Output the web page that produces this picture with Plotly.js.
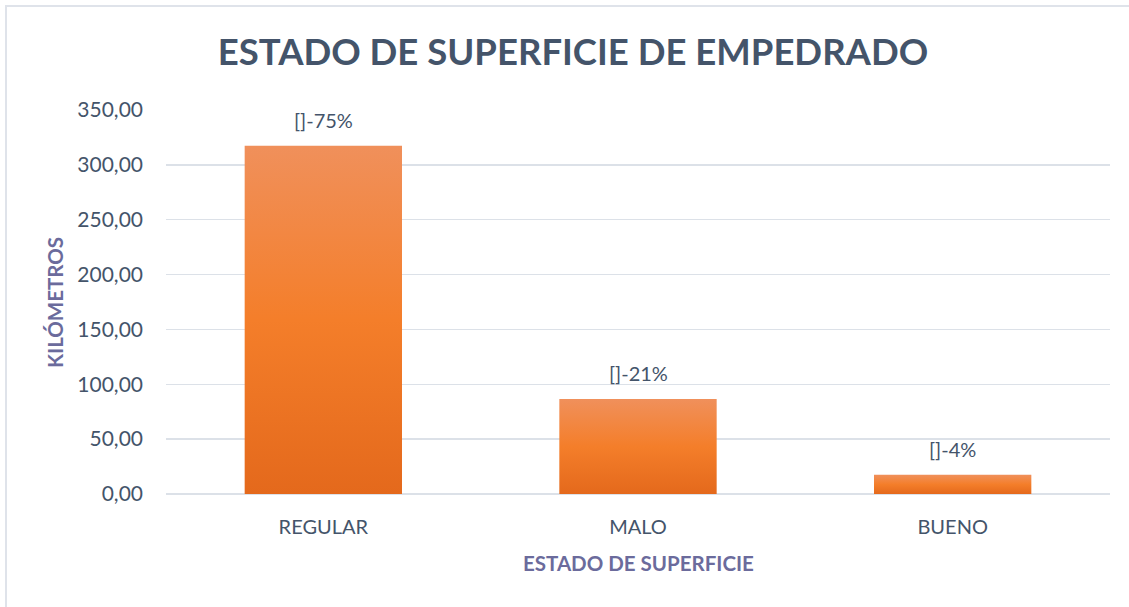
<!DOCTYPE html>
<html>
<head>
<meta charset="utf-8">
<script src="https://cdn.plot.ly/plotly-3.0.1.min.js"></script>
<style>
  html, body { margin: 0; padding: 0; background: #ffffff; }
  #wrap { position: relative; width: 1129px; height: 607px; overflow: hidden; }
  #chart { width: 1129px; height: 607px; }
  #frame { position: absolute; left: 5px; top: 5px; width: 1140px; height: 620px;
           border: 2px solid #dfe3ea; box-sizing: border-box; pointer-events: none; }
</style>
</head>
<body>
<div id="wrap">
  <div id="chart"></div>
  <div id="frame"></div>
</div>
<script>
// Data
const categories = ["REGULAR", "MALO", "BUENO"];
const kilometros = [317.5, 86.5, 17.5];
const labels = ["[]-75%", "[]-21%", "[]-4%"];
const yTicks = [0, 50, 100, 150, 200, 250, 300, 350];

const textColor = "#44546a";
const axisTitleColor = "#6b6b9c";
const font = "Lato, 'Open Sans', sans-serif";

const trace = {
  type: "bar",
  x: categories,
  y: kilometros,
  marker: { color: "#f47f2c", line: { width: 0 } },
  width: 0.5,
  hoverinfo: "x+y"
};

const dataLabels = categories.map(function (c, i) {
  return {
    x: c, y: kilometros[i], xref: "x", yref: "y",
    text: labels[i], showarrow: false,
    xanchor: "center", yanchor: "bottom", yshift: 12,
    font: { family: font, size: 20, color: textColor }
  };
});

const layout = {
  width: 1129,
  height: 607,
  margin: { l: 166, r: 19, t: 110, b: 113 },
  paper_bgcolor: "#ffffff",
  plot_bgcolor: "#ffffff",
  separators: ",.",
  showlegend: false,
  title: {
    text: "<b>ESTADO DE SUPERFICIE DE EMPEDRADO</b>",
    font: { family: font, size: 36.5, color: textColor },
    x: 573 / 1129, xanchor: "center", xref: "container",
    y: 1 - 52 / 607, yanchor: "middle", yref: "container"
  },
  xaxis: {
    type: "category",
    tickfont: { family: font, size: 20, color: textColor },
    showgrid: false,
    showline: false,
    ticks: "",
    ticklen: 0,
    ticklabelstandoff: 19
  },
  yaxis: {
    range: [0, 350],
    tickvals: yTicks,
    tickformat: ".2f",
    tickfont: { family: font, size: 21, color: textColor },
    showgrid: true,
    gridcolor: "#dce1e8",
    gridwidth: 1.5,
    zeroline: true,
    zerolinecolor: "#dce1e8",
    zerolinewidth: 2,
    showline: false,
    ticks: "",
    ticklabelstandoff: 22
  },
  annotations: dataLabels.concat([
    {
      text: "<b>ESTADO DE SUPERFICIE</b>", showarrow: false,
      xref: "paper", yref: "paper",
      x: 0.5, y: (494 - 563) / 384,
      xanchor: "center", yanchor: "middle",
      font: { family: font, size: 20.5, color: axisTitleColor }
    },
    {
      text: "<b>KILÓMETROS</b>", showarrow: false, textangle: -90,
      xref: "paper", yref: "paper",
      x: (55 - 166) / 944, y: (494 - 303) / 384,
      xanchor: "center", yanchor: "middle",
      font: { family: font, size: 20.5, color: axisTitleColor }
    }
  ])
};

Plotly.newPlot("chart", [trace], layout, { displayModeBar: false, staticPlot: true }).then(function (gd) {
  const svg = gd.querySelector("svg.main-svg");
  const ns = "http://www.w3.org/2000/svg";
  let defs = svg.querySelector("defs");
  if (!defs) { defs = document.createElementNS(ns, "defs"); svg.insertBefore(defs, svg.firstChild); }
  const grad = document.createElementNS(ns, "linearGradient");
  grad.setAttribute("id", "barGrad");
  grad.setAttribute("x1", "0"); grad.setAttribute("y1", "0");
  grad.setAttribute("x2", "0"); grad.setAttribute("y2", "1");
  [["0", "#f0905b"], ["0.5", "#f47e2a"], ["1", "#e4691c"]].forEach(function (s) {
    const st = document.createElementNS(ns, "stop");
    st.setAttribute("offset", s[0]);
    st.setAttribute("stop-color", s[1]);
    grad.appendChild(st);
  });
  defs.appendChild(grad);
  gd.querySelectorAll(".bars .point path").forEach(function (p) {
    p.style.fill = "url(#barGrad)";
  });
});
</script>
</body>
</html>
